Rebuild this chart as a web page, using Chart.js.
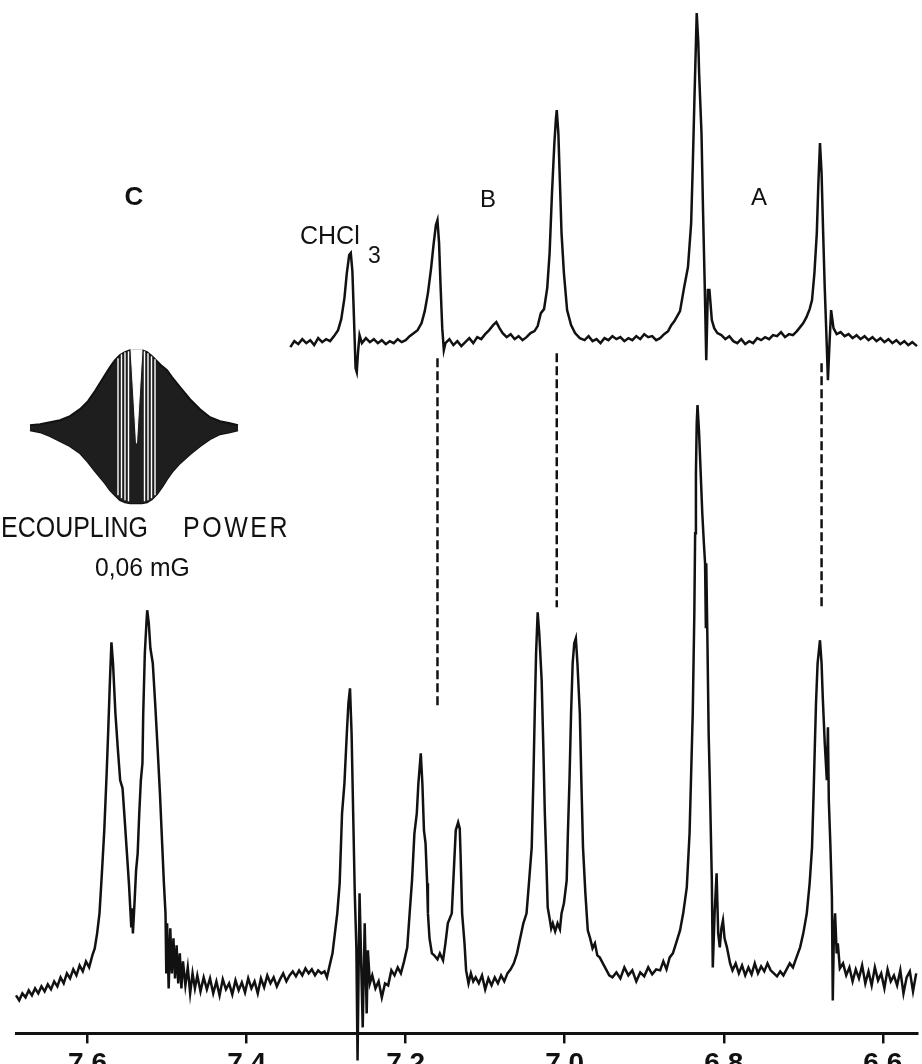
<!DOCTYPE html>
<html>
<head>
<meta charset="utf-8">
<script src="https://cdn.jsdelivr.net/npm/chart.js@4.4.0/dist/chart.umd.min.js"></script>
<style>
  html, body { margin: 0; padding: 0; background: #fff; overflow: hidden; }
  #wrap { width: 922px; height: 1064px; overflow: hidden; }
  canvas { display: block; }
</style>
</head>
<body>
<div id="wrap"><canvas id="nmrChart" width="922" height="1085"></canvas></div>
<script>
// chemical shift ticks (ppm)
const tickValues = [7.6, 7.4, 7.2, 7.0, 6.8, 6.6];

// upper trace: decoupled spectrum (ppm, intensity)
const upperPpm = [7.345, 7.340, 7.335, 7.330, 7.325, 7.320, 7.315, 7.310, 7.305, 7.300, 7.295, 7.290, 7.285, 7.281, 7.277, 7.274, 7.271, 7.269, 7.267, 7.265, 7.263, 7.2615, 7.260, 7.258, 7.255, 7.250, 7.245, 7.240, 7.235, 7.230, 7.225, 7.220, 7.215, 7.210, 7.205, 7.200, 7.195, 7.190, 7.185, 7.180, 7.176, 7.172, 7.168, 7.165, 7.162, 7.160, 7.158, 7.156, 7.154, 7.152, 7.150, 7.145, 7.140, 7.135, 7.130, 7.125, 7.120, 7.115, 7.110, 7.105, 7.100, 7.095, 7.090, 7.086, 7.082, 7.078, 7.073, 7.068, 7.063, 7.058, 7.053, 7.048, 7.043, 7.038, 7.034, 7.030, 7.026, 7.022, 7.019, 7.016, 7.013, 7.011, 7.010, 7.008, 7.006, 7.004, 7.001, 6.997, 6.992, 6.987, 6.981, 6.975, 6.970, 6.965, 6.960, 6.955, 6.950, 6.945, 6.940, 6.935, 6.930, 6.925, 6.920, 6.915, 6.910, 6.905, 6.900, 6.895, 6.890, 6.885, 6.880, 6.875, 6.870, 6.866, 6.862, 6.855, 6.850, 6.845, 6.841, 6.839, 6.837, 6.835, 6.834, 6.832, 6.831, 6.828, 6.826, 6.824, 6.822, 6.820, 6.818, 6.815, 6.812, 6.808, 6.803, 6.798, 6.793, 6.788, 6.783, 6.778, 6.773, 6.768, 6.763, 6.758, 6.753, 6.748, 6.743, 6.738, 6.733, 6.728, 6.723, 6.718, 6.713, 6.708, 6.704, 6.700, 6.696, 6.692, 6.689, 6.686, 6.683, 6.681, 6.679, 6.677, 6.675, 6.673, 6.671, 6.669, 6.667, 6.665, 6.662, 6.658, 6.653, 6.648, 6.643, 6.638, 6.633, 6.628, 6.623, 6.618, 6.613, 6.608, 6.603, 6.598, 6.593, 6.588, 6.583, 6.578, 6.573, 6.568, 6.563, 6.557];
const upperInt = [686, 692, 689, 694, 690, 693, 688, 695, 691, 694, 692, 697, 703, 714, 735, 760, 778, 780, 762, 715, 665, 661, 680, 698, 690, 695, 691, 694, 690, 693, 689, 692, 690, 694, 691, 693, 697, 700, 703, 710, 722, 740, 765, 788, 808, 813, 790, 745, 705, 683, 690, 694, 688, 692, 687, 691, 695, 690, 696, 694, 699, 703, 708, 711, 705, 700, 696, 699, 694, 697, 693, 696, 700, 702, 707, 720, 724, 745, 780, 840, 890, 915, 923, 900, 850, 800, 760, 723, 708, 700, 695, 693, 697, 692, 694, 690, 695, 693, 697, 694, 696, 692, 695, 693, 697, 694, 699, 696, 697, 693, 695, 699, 702, 708, 712, 722, 745, 766, 810, 866, 930, 990, 1020, 990, 960, 900, 820, 750, 673, 743, 743, 713, 705, 700, 698, 694, 697, 692, 690, 694, 689, 692, 690, 695, 693, 696, 694, 698, 697, 701, 696, 699, 698, 702, 706, 710, 716, 724, 733, 760, 800, 850, 890, 860, 800, 745, 700, 653, 690, 723, 705, 699, 701, 697, 699, 695, 698, 694, 697, 693, 696, 692, 695, 691, 694, 690, 693, 689, 692, 688, 691, 687];

// lower trace: spectrum at 0.06 mG decoupling power (ppm, intensity)
const lowerPpm = [7.690, 7.686, 7.682, 7.678, 7.674, 7.670, 7.666, 7.662, 7.658, 7.654, 7.650, 7.646, 7.642, 7.638, 7.634, 7.630, 7.626, 7.622, 7.618, 7.614, 7.610, 7.606, 7.602, 7.598, 7.594, 7.591, 7.588, 7.585, 7.582, 7.579, 7.576, 7.574, 7.572, 7.570, 7.568, 7.565, 7.562, 7.559, 7.556, 7.553, 7.551, 7.548, 7.545, 7.544, 7.543, 7.541, 7.539, 7.537, 7.535, 7.533, 7.531, 7.530, 7.528, 7.526, 7.525, 7.523, 7.521, 7.518, 7.515, 7.512, 7.509, 7.506, 7.504, 7.502, 7.501, 7.500, 7.498, 7.496, 7.494, 7.492, 7.490, 7.488, 7.486, 7.484, 7.482, 7.480, 7.477, 7.474, 7.471, 7.468, 7.465, 7.462, 7.458, 7.454, 7.450, 7.446, 7.442, 7.438, 7.434, 7.430, 7.426, 7.422, 7.418, 7.414, 7.410, 7.406, 7.402, 7.398, 7.394, 7.390, 7.386, 7.382, 7.378, 7.374, 7.370, 7.366, 7.362, 7.358, 7.354, 7.350, 7.346, 7.342, 7.338, 7.334, 7.330, 7.326, 7.322, 7.318, 7.314, 7.310, 7.306, 7.302, 7.299, 7.295, 7.292, 7.289, 7.286, 7.283, 7.280, 7.277, 7.274, 7.272, 7.270, 7.268, 7.266, 7.264, 7.262, 7.2605, 7.258, 7.254, 7.2515, 7.249, 7.2475, 7.245, 7.242, 7.238, 7.234, 7.230, 7.226, 7.222, 7.218, 7.214, 7.210, 7.206, 7.202, 7.198, 7.195, 7.192, 7.189, 7.186, 7.184, 7.182, 7.181, 7.179, 7.177, 7.175, 7.173, 7.172, 7.170, 7.167, 7.164, 7.160, 7.157, 7.153, 7.150, 7.147, 7.142, 7.139, 7.137, 7.134, 7.132, 7.131, 7.129, 7.126, 7.124, 7.121, 7.118, 7.115, 7.112, 7.108, 7.104, 7.100, 7.096, 7.092, 7.088, 7.084, 7.080, 7.076, 7.072, 7.068, 7.064, 7.060, 7.056, 7.052, 7.048, 7.045, 7.0415, 7.0395, 7.0377, 7.036, 7.034, 7.032, 7.029, 7.027, 7.025, 7.023, 7.0214, 7.019, 7.017, 7.015, 7.012, 7.009, 7.006, 7.004, 7.001, 6.9975, 6.996, 6.994, 6.992, 6.990, 6.988, 6.986, 6.984, 6.981, 6.979, 6.977, 6.974, 6.971, 6.968, 6.965, 6.962, 6.959, 6.956, 6.952, 6.948, 6.944, 6.940, 6.935, 6.930, 6.925, 6.920, 6.915, 6.910, 6.905, 6.900, 6.895, 6.890, 6.885, 6.880, 6.876, 6.872, 6.868, 6.864, 6.860, 6.855, 6.851, 6.8465, 6.843, 6.841, 6.839, 6.837, 6.836, 6.835, 6.834, 6.833, 6.831, 6.829, 6.827, 6.825, 6.8235, 6.8225, 6.822, 6.8205, 6.819, 6.8176, 6.815, 6.8138, 6.8115, 6.809, 6.807, 6.805, 6.803, 6.801, 6.799, 6.796, 6.792, 6.789, 6.785, 6.781, 6.777, 6.773, 6.769, 6.765, 6.761, 6.757, 6.753, 6.749, 6.745, 6.741, 6.737, 6.733, 6.729, 6.725, 6.721, 6.717, 6.713, 6.709, 6.704, 6.700, 6.6956, 6.692, 6.689, 6.687, 6.6855, 6.684, 6.682, 6.679, 6.677, 6.6755, 6.673, 6.6704, 6.669, 6.6679, 6.666, 6.664, 6.6629, 6.6615, 6.660, 6.658, 6.6566, 6.654, 6.650, 6.646, 6.642, 6.638, 6.634, 6.630, 6.626, 6.622, 6.618, 6.614, 6.610, 6.606, 6.602, 6.598, 6.594, 6.590, 6.586, 6.582, 6.578, 6.574, 6.570, 6.566, 6.562, 6.558];
const lowerInt = [38, 33, 40, 36, 43, 38, 45, 40, 47, 42, 49, 44, 52, 47, 56, 50, 60, 55, 64, 58, 68, 62, 72, 66, 78, 85, 100, 120, 160, 203, 260, 303, 350, 391, 370, 320, 285, 253, 245, 210, 186, 150, 106, 125, 100, 130, 163, 180, 220, 253, 270, 320, 380, 410, 423, 410, 385, 370, 330, 286, 240, 186, 150, 120, 60, 110, 45, 105, 60, 95, 55, 88, 50, 80, 45, 72, 48, 66, 40, 60, 45, 58, 42, 56, 44, 55, 40, 52, 38, 54, 44, 50, 39, 53, 43, 51, 41, 55, 45, 52, 40, 55, 46, 58, 50, 56, 47, 54, 60, 52, 58, 62, 57, 63, 58, 65, 60, 64, 58, 63, 60, 62, 56, 70, 80, 100, 120, 150, 220, 250, 300, 330, 345, 300, 220, 140, 86, -27, 140, 6, 110, 20, 83, 50, 58, 45, 52, 36, 50, 48, 63, 58, 66, 60, 72, 86, 120, 153, 200, 220, 250, 270, 280, 250, 203, 190, 150, 120, 95, 80, 78, 74, 80, 73, 90, 110, 120, 170, 203, 211, 205, 180, 120, 90, 63, 50, 60, 52, 56, 50, 58, 44, 55, 48, 56, 50, 58, 52, 60, 64, 70, 80, 95, 110, 120, 150, 186, 250, 320, 380, 421, 400, 353, 290, 220, 170, 126, 115, 105, 110, 102, 110, 104, 120, 130, 153, 200, 253, 320, 370, 390, 395, 370, 320, 250, 186, 140, 103, 95, 85, 90, 78, 76, 70, 64, 58, 56, 61, 55, 66, 58, 63, 52, 61, 57, 66, 59, 64, 63, 72, 64, 76, 80, 90, 103, 120, 146, 200, 260, 320, 420, 500, 560, 610, 628, 600, 560, 520, 490, 470, 405, 470, 390, 300, 253, 153, 66, 120, 160, 100, 86, 105, 113, 95, 86, 70, 63, 70, 60, 68, 58, 66, 59, 70, 60, 67, 62, 70, 63, 60, 57, 62, 58, 64, 70, 66, 75, 86, 100, 120, 150, 186, 240, 286, 330, 370, 393, 370, 336, 290, 253, 306, 233, 190, 136, 33, 100, 120, 80, 90, 65, 70, 58, 66, 52, 64, 55, 68, 50, 62, 48, 66, 53, 60, 45, 64, 52, 58, 48, 63, 40, 56, 62, 42, 60];

// dashed correlation lines between the two traces
const dashPpm = [7.160, 7.010, 6.677];
const dashTop = [675, 680, 670];
const dashBottom = [326, 426, 426];

// inset: decoupling power envelope (time units, intensity)
const insetT = [0, 10, 20, 30, 40, 50, 58, 65, 70, 75, 80, 85, 90, 95, 100, 106, 112, 117, 122, 127, 132, 137, 142, 150, 160, 170, 180, 190, 200, 208];
const insetTop = [608, 609, 611, 613, 617, 624, 632, 642, 650, 658, 666, 673, 678, 681, 683, 683, 683, 681, 677, 672, 667, 663, 656, 646, 634, 624, 616, 612, 610, 608];
const insetBottom = [603, 601, 597, 592, 587, 580, 571, 562, 556, 550, 543, 538, 533, 531, 530, 530, 530, 531, 534, 539, 546, 554, 561, 570, 579, 587, 594, 599, 601, 603];
const notchT = [101, 106.5, 112];
const notchY = [684, 590, 684];
const gapT = [88, 91.5, 95, 98.5, 114.5, 118, 121.5, 125];
const gapLow = [538, 535, 533, 532, 532, 533, 535, 538];
const gapHigh = [675, 679, 681, 682, 682, 680, 677, 674];

function pairs(xs, ys) {
  return xs.map((x, i) => ({ x: x, y: ys[i] }));
}

const dashSets = dashPpm.map((p, i) => ({
  data: [{ x: p, y: dashTop[i] }, { x: p, y: dashBottom[i] }],
  borderColor: '#111',
  borderWidth: 2.5,
  borderDash: [9, 4],
  showLine: true,
  pointRadius: 0,
  order: 1
}));

const gapData = [];
gapT.forEach((t, i) => {
  gapData.push({ x: t, y: gapLow[i] }, { x: t, y: gapHigh[i] }, { x: t, y: null });
});

// text on the figure
const figureLabels = [
  { text: 'C', x: 134, y: 198, font: 'bold 26px "Liberation Sans"', align: 'center' },
  { text: 'B', x: 488, y: 200, font: '24px "Liberation Sans"', align: 'center' },
  { text: 'A', x: 759, y: 198, font: '24px "Liberation Sans"', align: 'center' },
  { text: 'CHCl', x: 300, y: 237, font: '25px "Liberation Sans"', align: 'left' },
  { text: '3', x: 368, y: 257, font: '23px "Liberation Sans"', align: 'left' },
  { text: 'DECOUPLING', x: 148, y: 529, font: '29px "Liberation Sans"', align: 'right', sx: 0.86 },
  { text: 'POWER', x: 183, y: 529, font: '29px "Liberation Sans"', align: 'left', sx: 0.86, spacing: '3px' },
  { text: '0,06 mG', x: 95, y: 569, font: '26px "Liberation Sans"', align: 'left', sx: 0.95 }
];

const textPlugin = {
  id: 'figureText',
  afterDraw(chart) {
    const ctx = chart.ctx;
    figureLabels.forEach(l => {
      ctx.save();
      ctx.fillStyle = '#111';
      ctx.textBaseline = 'middle';
      ctx.font = l.font;
      ctx.textAlign = l.align;
      ctx.letterSpacing = l.spacing || '0px';
      ctx.translate(l.x, l.y);
      ctx.scale(l.sx || 1, 1);
      ctx.fillText(l.text, 0, 0);
      ctx.restore();
    });
  }
};

const ctx = document.getElementById('nmrChart').getContext('2d');
new Chart(ctx, {
  type: 'scatter',
  data: {
    datasets: [
      {
        // white V notch in the middle of the inset
        xAxisID: 'xIn',
        data: pairs(notchT, notchY),
        showLine: true,
        borderColor: '#fff',
        borderWidth: 1,
        backgroundColor: '#fff',
        fill: { value: 684 },
        pointRadius: 0,
        order: 0
      },
      {
        // light gaps between the central lines of the inset
        xAxisID: 'xIn',
        data: gapData,
        showLine: true,
        spanGaps: false,
        borderColor: '#fff',
        borderWidth: 1.4,
        pointRadius: 0,
        order: 0
      },
      {
        xAxisID: 'xIn',
        data: pairs(insetT, insetTop),
        showLine: true,
        borderColor: '#111',
        borderWidth: 2,
        backgroundColor: '#1e1e1e',
        fill: '+1',
        pointRadius: 0,
        order: 2
      },
      {
        xAxisID: 'xIn',
        data: pairs(insetT, insetBottom),
        showLine: true,
        borderColor: '#111',
        borderWidth: 2,
        pointRadius: 0,
        order: 2
      },
      {
        data: pairs(upperPpm, upperInt),
        showLine: true,
        borderColor: '#111',
        borderWidth: 2.5,
        pointRadius: 0,
        clip: false,
        order: 1
      },
      {
        data: pairs(lowerPpm, lowerInt),
        showLine: true,
        borderColor: '#111',
        borderWidth: 2.5,
        pointRadius: 0,
        clip: false,
        order: 1
      },
      ...dashSets
    ]
  },
  options: {
    responsive: false,
    animation: false,
    devicePixelRatio: 1,
    layout: { padding: { left: 16, right: 5, top: 0, bottom: 0 } },
    scales: {
      x: {
        type: 'linear',
        reverse: true,
        min: 6.557,
        max: 7.69,
        afterBuildTicks: axis => { axis.ticks = tickValues.map(v => ({ value: v })); },
        ticks: {
          color: '#111',
          padding: 4,
          font: { family: '"Liberation Sans"', size: 28, weight: 'bold' },
          callback: v => v.toFixed(1)
        },
        grid: { drawOnChartArea: false, drawTicks: true, tickLength: 10, lineWidth: 2.5, color: '#111' },
        border: { display: true, width: 3, color: '#111' }
      },
      xIn: {
        type: 'linear',
        display: false,
        min: -14,
        max: 887
      },
      y: {
        display: false,
        min: 0,
        max: 1033
      }
    },
    plugins: {
      legend: { display: false },
      tooltip: { enabled: false }
    }
  },
  plugins: [textPlugin]
});
</script>
</body>
</html>
